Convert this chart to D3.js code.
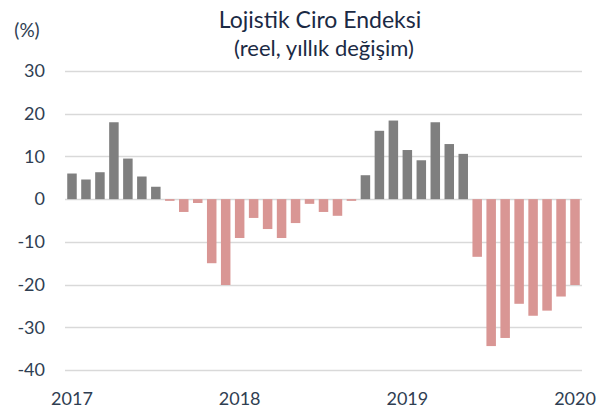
<!DOCTYPE html>
<html>
<head>
<meta charset="utf-8">
<script src="https://cdn.jsdelivr.net/npm/d3@7"></script>
<style>
  body { margin: 0; background: #fff; }
  text { font-family: Lato, "Open Sans", sans-serif; }
</style>
</head>
<body>
<div class="g-chart"></div>
<script>
// monthly, Jan 2017 .. Jan 2020
var months = d3.range(37).map(function(i){ return new Date(2017, i, 1); });
var values = [
  6.0, 4.6, 6.3, 18.0, 9.5, 5.3, 2.9, -0.4, -3.0, -0.9, -15.0, -20.1,
  -9.1, -4.4, -7.0, -9.1, -5.6, -1.1, -3.0, -3.9, -0.4, 5.6, 16.0, 18.4,
  11.5, 9.1, 18.0, 12.9, 10.6, -13.5, -34.4, -32.5, -24.5, -27.3, -26.1, -22.8,
  -20.1
];
var yTicks = [30, 20, 10, 0, -10, -20, -30, -40];
var yearLabels = ["2017", "2018", "2019", "2020"];

var width = 608;
var height = 412;
var margin = {top: 71, right: 26, bottom: 42, left: 65};

var svg = d3.select(".g-chart")
  .append("svg")
  .attr("width", width)
  .attr("height", height);

var x = d3.scaleBand()
  .domain(d3.range(months.length))
  .range([margin.left, width - margin.right])
  .paddingInner(0.32)
  .paddingOuter(0.16);

var y = d3.scaleLinear()
  .domain([-40, 30])
  .range([height - margin.bottom, margin.top]);

// grid
svg.append("g")
  .selectAll("line")
  .data(yTicks)
  .enter()
  .append("line")
  .attr("x1", margin.left)
  .attr("x2", width - margin.right)
  .attr("y1", function(d){ return Math.round(y(d)) + 0.5; })
  .attr("y2", function(d){ return Math.round(y(d)) + 0.5; })
  .style("stroke", "#d9d9d9")
  .style("stroke-width", 1.5);

// y labels
svg.append("g")
  .selectAll("text")
  .data(yTicks)
  .enter()
  .append("text")
  .attr("x", 45)
  .attr("y", function(d){ return y(d); })
  .attr("dy", "0.35em")
  .attr("text-anchor", "end")
  .style("font-size", "18px")
  .style("fill", "#2f3e52")
  .text(function(d){ return d; });

// bars
svg.append("g")
  .selectAll("rect")
  .data(values)
  .enter()
  .append("rect")
  .attr("x", function(d, i){ return x(i); })
  .attr("width", x.bandwidth())
  .attr("y", function(d){ return y(Math.max(0, d)); })
  .attr("height", function(d){ return Math.abs(y(d) - y(0)); })
  .style("fill", function(d){ return d >= 0 ? "#7f7f7f" : "#d99694"; });

// x labels at each January
svg.append("g")
  .selectAll("text")
  .data(yearLabels)
  .enter()
  .append("text")
  .attr("x", function(d, i){ return x(i * 12) + x.bandwidth() / 2; })
  .attr("y", 405)
  .attr("text-anchor", "middle")
  .style("font-size", "18px")
  .style("fill", "#2f3e52")
  .text(function(d){ return d; });

// titles
svg.append("text")
  .attr("x", 320)
  .attr("y", 28)
  .attr("text-anchor", "middle")
  .style("font-size", "23px")
  .style("fill", "#1b2a44")
  .text("Lojistik Ciro Endeksi");

svg.append("text")
  .attr("x", 324)
  .attr("y", 56)
  .attr("text-anchor", "middle")
  .style("font-size", "22px")
  .style("fill", "#1b2a44")
  .text("(reel, yıllık değişim)");

svg.append("text")
  .attr("x", 27)
  .attr("y", 37)
  .attr("text-anchor", "middle")
  .style("font-size", "19px")
  .style("fill", "#2f3e52")
  .text("(%)");
</script>
</body>
</html>
